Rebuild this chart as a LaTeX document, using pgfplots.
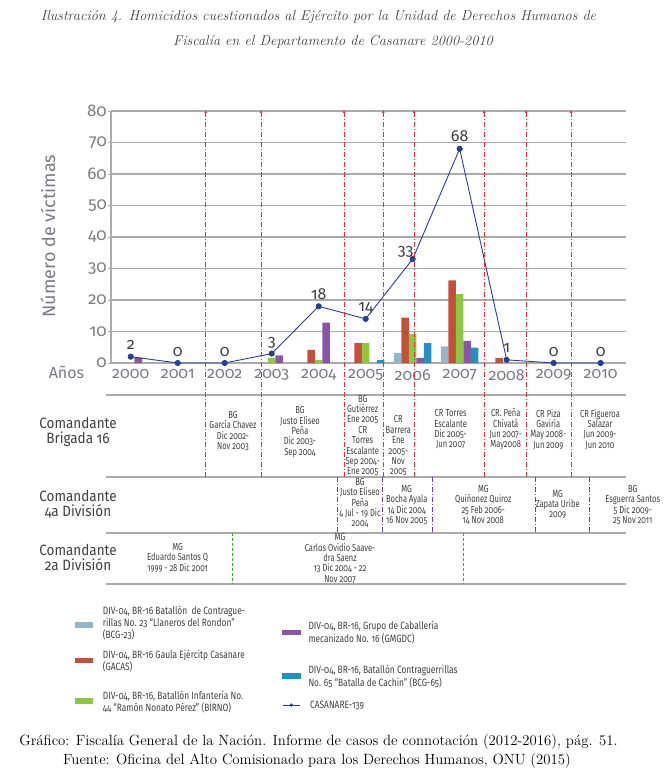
\documentclass[border=0pt]{standalone}
\usepackage{fontspec}
\usepackage{pgfplots}
\pgfplotsset{compat=1.18}
\usetikzlibrary{arrows.meta}
\newfontfamily\fira[Numbers=OldStyle]{Fira Sans}
\newfontfamily\firarow[Numbers=OldStyle,FakeStretch=0.9]{Fira Sans}
\newfontfamily\firacond[Numbers=OldStyle,FakeStretch=0.74]{Fira Sans}
\newfontfamily\firaleg[Numbers=OldStyle,FakeStretch=0.79]{Fira Sans}
\definecolor{cLB}{HTML}{93B7C9}
\definecolor{cRed}{HTML}{C2503A}
\definecolor{cGreen}{HTML}{8DC63F}
\definecolor{cPurple}{HTML}{8A55A8}
\definecolor{cTeal}{HTML}{2291BD}
\definecolor{cNavy}{HTML}{2A3F8F}
\definecolor{cGrid}{HTML}{ABABAB}
\definecolor{cTxt}{HTML}{7A7A85}
\definecolor{cDash}{HTML}{E0313F}
\definecolor{cPurpL}{HTML}{6E3FA0}
\definecolor{cGreenL}{HTML}{3AAA35}
\definecolor{cDark}{HTML}{404040}
\begin{document}
\begin{tikzpicture}
\begin{scope}[x=1pt,y=-1pt]
\path[use as bounding box] (0,0) rectangle (670,783);
\end{scope}
\begin{axis}[
  at={(111pt,-363pt)}, anchor=south west, scale only axis,
  width=515pt, height=252pt,
  xmin=-0.42, xmax=10.54, ymin=0, ymax=80,
  axis y line=left, axis x line=bottom,
  axis line style={cGrid, line width=1.2pt, -},
  ytick={0,10,...,80},
  ymajorgrids, major grid style={cGrid, line width=1.2pt},
  xtick={0,...,10},
  xticklabels={2000,2001,2002,2003,2004,2005,2006,2007,2008,2009,2010},
  xtick style={draw=none},
  ytick style={cGrid, line width=0.8pt},
  tick align=outside, major tick length=3pt,
  /pgf/number format/assume math mode=true,
  yticklabel style={font=\fira\fontsize{17}{17}\selectfont, text=cTxt, inner sep=1pt},
  xticklabel style={font=\fira\fontsize{16}{16}\selectfont, text=cTxt},
  clip=false,
]
\addplot[ybar, bar width=0.16, bar shift=-0.32, fill=cLB, draw=none] coordinates {(6,3.2) (7,5.3)};
\addplot[ybar, bar width=0.16, bar shift=-0.16, fill=cRed, draw=none] coordinates {(4,4.2) (5,6.3) (6,14.4) (7,26.2) (8,1.6)};
\addplot[ybar, bar width=0.16, bar shift=0, fill=cGreen, draw=none] coordinates {(3,1.6) (4,0.9) (5,6.3) (6,9.2) (7,21.9)};
\addplot[ybar, bar width=0.16, bar shift=0.16, fill=cPurple, draw=none] coordinates {(0,1.7) (3,2.4) (4,12.8) (6,1.6) (7,7.0)};
\addplot[ybar, bar width=0.16, bar shift=0.32, fill=cTeal, draw=none] coordinates {(5,0.9) (6,6.3) (7,4.9)};
\addplot[cNavy, line width=0.9pt, mark=*, mark size=2.6pt, mark options={fill=cNavy, draw=cNavy},
  visualization depends on={x \as \xv},
  nodes near coords, nodes near coords style={font=\fira\fontsize{16}{16}\selectfont, text=cDark, anchor=base,
    yshift={7-3*(\xv==6)}, xshift={-7*(\xv==6)}}]
  coordinates {(0,2) (1,0) (2,0) (3,3) (4,18) (5,14) (6,33) (7,68) (8,1) (9,0) (10,0)};
\end{axis}
\begin{scope}[x=1pt,y=-1pt]
% titles
\node[font=\itshape\fontsize{14.3}{16}\selectfont, text=black!75] at (318.5,17) {Ilustración 4. Homicidios cuestionados al Ejército por la Unidad de Derechos Humanos de};
\node[font=\itshape\fontsize{14.3}{16}\selectfont, text=black!75] at (333,42) {Fiscalía en el Departamento de Casanare 2000-2010};
% y label and Años
\node[rotate=90, font=\fira\fontsize{18}{18}\selectfont, text=cTxt] at (48,236) {Número de víctimas};
\node[font=\fira\fontsize{16}{16}\selectfont, text=cTxt] at (66.5,372) {Años};
% table lines
\foreach \yy in {395,477,533,584} \draw[cGrid, line width=1.2pt] (106,\yy) -- (626,\yy);
% red dash-dot lines
\foreach \xx in {205.7,261,344,383.3,414,484,526,571}
  \draw[cDash, line width=0.8pt, dash pattern=on 5pt off 2pt on 1pt off 2pt, -{Latex[length=3pt,width=3pt]}] (\xx,477) -- (\xx,110);
\foreach \xx in {337.5,382.5,432.3,535.7,589.3}
  \draw[cPurpL, line width=0.8pt, dash pattern=on 5pt off 2pt on 1pt off 2pt] (\xx,477) -- (\xx,533);
\foreach \xx in {232.3,463.3}
  \draw[cGreenL, line width=0.8pt, dash pattern=on 3pt off 2pt] (\xx,533) -- (\xx,584);
% row labels
\begin{scope}[every node/.style={align=center, font=\firarow\fontsize{15}{15}\selectfont, text=cDark}]
\node at (78,431.5) {Comandante\\Brigada 16};
\node at (78,504) {Comandante\\4a División};
\node at (78,557.5) {Comandante\\2a División};
\end{scope}
% table texts
\begin{scope}[every node/.style={align=center, inner sep=0pt, font=\firacond\fontsize{10.2}{10.4}\selectfont, text=cDark}]
\node at (233,431) {BG\\García Chavez\\Dic 2002-\\Nov 2003};
\node at (300,432) {BG\\Justo Eliseo\\Peña\\Dic 2003-\\Sep 2004};
\node at (362.7,435.5) {BG\\Gutiérrez\\Ene 2005\\CR\\Torres\\Escalante\\Sep 2004-\\Ene 2005};
\node at (398.3,446) {CR\\Barrera\\Ene\\2005-\\Nov\\2005};
\node at (450.7,429.5) {CR Torres\\Escalante\\Dic 2005-\\Jun 2007};
\node at (505.7,429.5) {CR. Peña\\Chivatá\\Jun 2007-\\May2008};
\node at (548.3,429.5) {CR Piza\\Gaviria\\May 2008-\\Jun 2009};
\node at (600,429.5) {CR Figueroa\\Salazar\\Jun 2009-\\Jun 2010};
\node at (360,503) {BG\\Justo Eliseo\\Peña\\4 Jul - 19 Dic\\2004};
\node at (406.7,505) {MG\\Bocha Ayala\\14 Dic 2004\\16 Nov 2005};
\node at (483.3,505) {MG\\Quiñonez Quiroz\\25 Feb 2006-\\14 Nov 2008};
\node at (557.7,504.5) {MG\\Zapata Uribe\\2009};
\node at (632.7,505) {BG\\Esguerra Santos\\5 Dic 2009-\\25 Nov 2011};
\node at (177.7,557.7) {MG\\Eduardo Santos Q\\1999 - 28 Dic 2001};
\node at (340,558.5) {MG\\Carlos Ovidio Saave-\\dra Saenz\\13 Dic 2004 - 22\\Nov 2007};
\end{scope}
% legend
\fill[cLB] (75,622.3) rectangle (93.3,627.5);
\fill[cRed] (75,658) rectangle (93.3,663.3);
\fill[cGreen] (75,698.3) rectangle (93.3,704);
\fill[cPurple] (281.7,629.7) rectangle (300.7,635.3);
\fill[cTeal] (281.7,672.7) rectangle (300.7,678.7);
\draw[cNavy, line width=0.9pt] (282.7,705) -- (300,705);
\fill[cNavy] (291.3,705) circle (1.8pt);
\begin{scope}[every node/.style={align=left, anchor=west, inner sep=0pt, font=\firaleg\fontsize{10.6}{12.3}\selectfont, text=cDark}]
\node at (102.7,623) {DIV-04, BR-16 Batallón\ \ de Contrague-\\rillas No. 23 “Llaneros del Rondon”\\(BCG-23)};
\node at (102.7,660.7) {DIV-04, BR-16 Gaula Ejércitp Casanare\\(GACAS)};
\node at (102.7,702) {DIV-04, BR-16, Batallón Infantería No.\\44 “Ramón Nonato Pérez” (BIRNO)};
\node at (308.3,632.5) {DIV-04, BR-16, Grupo de Caballería\\mecanizado No. 16 (GMGDC)};
\node at (308.3,676.5) {DIV-04, BR-16, Batallón Contraguerrillas\\No. 65 “Batalla de Cachin” (BCG-65)};
\node at (310,705) {CASANARE-139};
\end{scope}
% footer
\node[font=\fontsize{14.8}{16}\selectfont] at (318.5,742) {Gráfico: Fiscalía General de la Nación. Informe de casos de connotación (2012-2016), pág. 51.};
\node[font=\fontsize{14.8}{16}\selectfont] at (317,761) {Fuente: Oficina del Alto Comisionado para los Derechos Humanos, ONU (2015)};
\end{scope}
\end{tikzpicture}
\end{document}
